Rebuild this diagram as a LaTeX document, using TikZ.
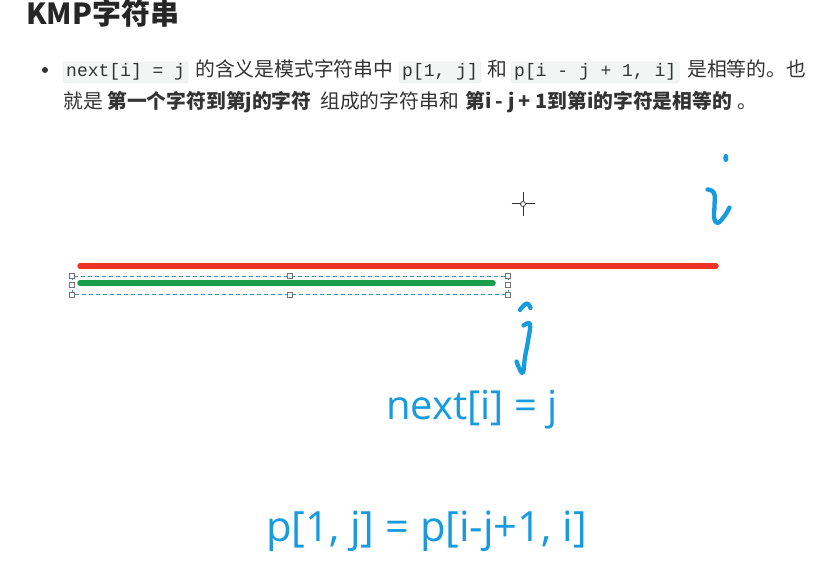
\documentclass[tikz,border=0pt]{standalone}
\usepackage{fontspec}
\setmainfont{Noto Sans CJK SC}
\newfontfamily\codefont{Liberation Mono}
\newfontfamily\handfont{Open Sans}
\usetikzlibrary{positioning}

\definecolor{textgray}{HTML}{333333}
\definecolor{codebg}{HTML}{F3F4F4}
\definecolor{codeline}{HTML}{E3E5E5}
\definecolor{barred}{HTML}{EE3328}
\definecolor{bargreen}{HTML}{1A9E4B}
\definecolor{selblue}{HTML}{3C8FD0}
\definecolor{penblue}{HTML}{169BDF}

\tikzset{
  txt/.style={inner sep=0pt, anchor=base west, text=textgray, font=\fontsize{19.8}{22}\selectfont},
  boldtxt/.style={txt, font=\fontsize{19.8}{22}\selectfont\bfseries},
  codebox/.style={anchor=base west, fill=codebg, draw=codeline, rounded corners=2pt,
    inner xsep=3pt, inner ysep=0pt, text height=15pt, text depth=6pt, text=textgray,
    font=\codefont\fontsize{18}{20}\selectfont},
  handle/.style={draw=gray!90!black, fill=white, line width=0.8pt, minimum size=5pt, inner sep=0pt},
  bar/.style={line width=5.5pt, line cap=round},
  pen/.style={draw=penblue, line width=4.3pt, line cap=round, line join=round},
  bluetxt/.style={inner sep=0pt, anchor=base west, text=penblue, font=\handfont\fontsize{40}{46}\selectfont}
}

\begin{document}
\begin{tikzpicture}[x=1pt,y=-1pt]
  \useasboundingbox[fill=white] (0,0) rectangle (834,577);

  % heading and bullet text
  \node[txt, text=black!85, font=\fontsize{29}{34}\selectfont\bfseries] (title) at (26,25) {KMP字符串};
  \fill[textgray] (45,70) circle (3) node (bullet) {};

  \node[codebox] (codeNext) at (63,77) {next[i] = j};
  \node[txt] (txtMeaning) at (195,77) {的含义是模式字符串中};
  \node[codebox] (codeFirst) at (399,77) {p[1, j]};
  \node[txt] (txtAnd) at (487,77) {和};
  \node[codebox] (codeSecond) at (511,77) {p[i - j + 1, i]};
  \node[txt] (txtEqual) at (687,77) {是相等的。也};

  \node[txt] (txtThatIs) at (63,109) {就是};
  \node[boldtxt] (txtFirst) at (107,109) {第一个字符到第j的字符};
  \node[txt] (txtCompose) at (320,109) {组成的字符串和};
  \node[boldtxt] (txtSecond) at (465,109) {第i - j + 1到第i的字符是相等的};
  \node[txt] (txtStop) at (737,109) {。};

  % the two strings
  \coordinate (redStart) at (80,266);
  \coordinate (redEnd) at (716,266);
  \coordinate (greenStart) at (80,283);
  \coordinate (greenEnd) at (493,283);
  \draw[bar, barred] (redStart) -- (redEnd);
  \draw[bar, bargreen] (greenStart) -- (greenEnd);

  % selection frame round the green bar
  \coordinate (selNW) at (72,276);
  \coordinate (selSE) at (508,294.5);
  \draw[selblue, line width=0.8pt, dash pattern=on 4pt off 3pt] (selNW) rectangle (selSE);
  \foreach \hx/\hy in {72/276, 290/276, 508/276, 72/285, 508/285, 72/294.5, 290/294.5, 508/294.5}
    \node[handle] at (\hx,\hy) {};

  % cursor cross
  \coordinate (cross) at (523,204);
  \draw[black!80, line width=1pt] (511.5,204) -- (520.5,204) (525.5,204) -- (534.5,204)
    (523,192) -- (523,201.5) (523,206.5) -- (523,216);
  \draw[black!80, line width=0.8pt] (cross) circle (2.5);

  % handwritten i
  \fill[penblue] (725.8,158) ellipse (2.6 and 4.3);
  \draw[pen] plot[smooth, tension=0.7] coordinates {(707.5,189.5) (714,193) (714.5,206) (714,217) (717.5,223) (724.5,216) (729.5,207.5)};

  % handwritten j
  \draw[pen] plot[smooth, tension=0.8] coordinates {(520,310) (526.5,303.5) (530.5,308)};
  \draw[pen] plot[smooth, tension=0.7] coordinates {(523.5,325.5) (530,324) (528,341) (525,357) (522.5,373) (516.5,361.5)};

  % formulas
  \node[bluetxt] (formulaNext) at (386,419) {next[i] = j};
  \node[bluetxt, font=\handfont\fontsize{41.7}{48}\selectfont] (formulaEqual) at (266,541) {p[1, j] = p[i-j+1, i]};
\end{tikzpicture}
\end{document}
